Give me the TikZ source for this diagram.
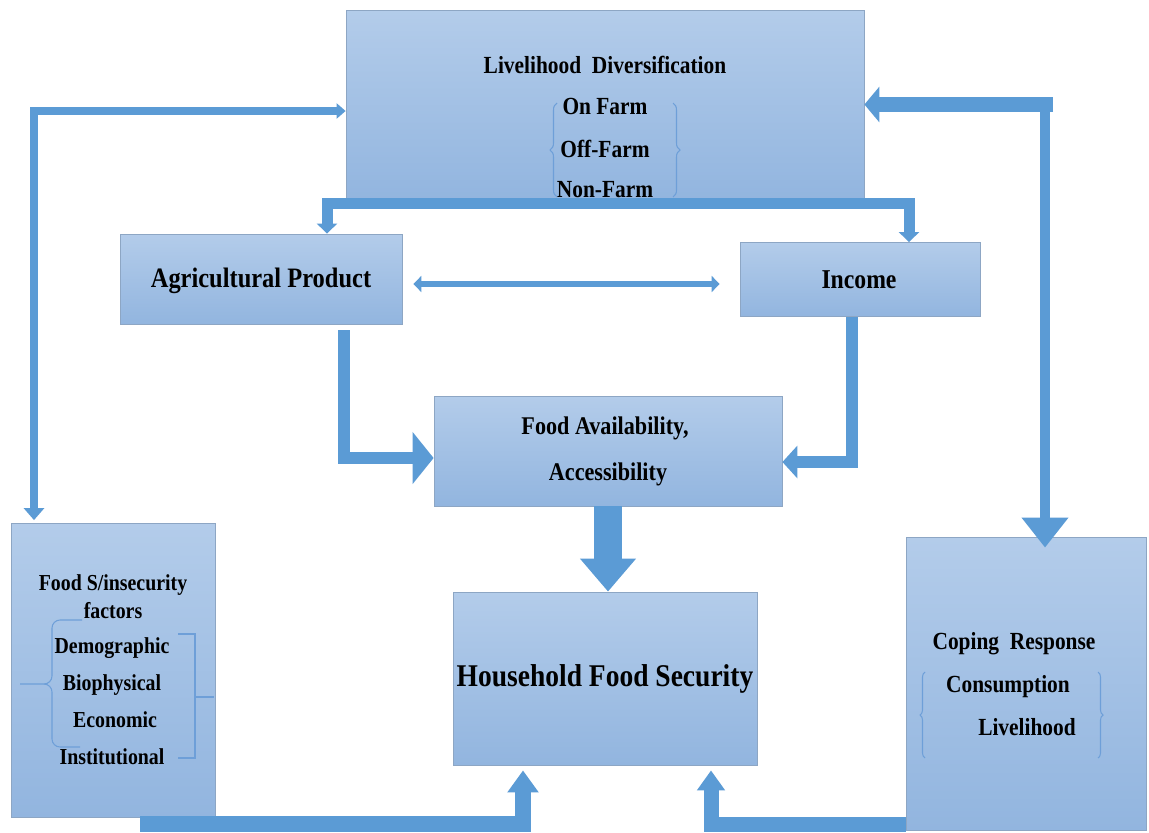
\documentclass[tikz,border=0pt]{standalone}
\usepackage{fontspec}
\setmainfont{Liberation Serif}[FakeStretch=0.87]
\usetikzlibrary{arrows.meta,calc,decorations.pathreplacing}
\definecolor{arrc}{HTML}{5B9BD5}
\definecolor{boxtop}{HTML}{B3CCEA}
\definecolor{boxbot}{HTML}{92B5DF}
\definecolor{boxline}{HTML}{8DA6C4}
\definecolor{brc}{HTML}{6E9FD8}
\begin{document}
\begin{tikzpicture}[x={(0.02cm,0)}, y={(0,-0.02cm)},
  box/.style={draw=boxline, line width=0.5pt, top color=boxtop, bottom color=boxbot, inner sep=0pt},
  lbl/.style={inner sep=0pt, text=black},
  conn/.style={draw=arrc, line join=miter},
  brc/.style={draw=brc, line width=0.6pt},
  bracedeco/.style={brc, decorate, decoration={brace, amplitude=#1}},
]
\fill[white] (0,0) rectangle (1149,832);
\useasboundingbox (0,0) rectangle (1149,832);

% boxes
\node[box, minimum width=10.36cm, minimum height=3.8cm] (ld) at (605,105) {};
\node[box, minimum width=5.64cm, minimum height=1.8cm] (agri) at (261,279) {};
\node[box, minimum width=4.8cm, minimum height=1.48cm] (inc) at (860,279.5) {};
\node[box, minimum width=6.96cm, minimum height=2.2cm] (fa) at (608,451) {};
\node[box, minimum width=6.08cm, minimum height=3.46cm] (hfs) at (605,678.5) {};
\node[box, minimum width=4.08cm, minimum height=5.88cm] (fsi) at (113,670.5) {};
\node[box, minimum width=4.8cm, minimum height=5.86cm] (cop) at (1026,683.5) {};

% texts
\node[lbl, font=\fontsize{14}{16}\selectfont\bfseries] (ldt) at (605,65) {Livelihood\ \ Diversification};
\node[lbl, font=\fontsize{14}{16}\selectfont\bfseries] (ldon) at (605,106) {On Farm};
\node[lbl, font=\fontsize{14}{16}\selectfont\bfseries] (ldoff) at (605,149) {Off-Farm};
\node[lbl, font=\fontsize{14}{16}\selectfont\bfseries] (ldnon) at (605,190) {Non-Farm};

\node[lbl, font=\fontsize{16}{18}\selectfont\bfseries] (agrit) at (261,281) {Agricultural Product};
\node[lbl, font=\fontsize{15.5}{18}\selectfont\bfseries] (inct) at (859,280) {Income};
\node[lbl, font=\fontsize{14.5}{17}\selectfont\bfseries] (fat1) at (605,428) {Food Availability,};
\node[lbl, font=\fontsize{14.5}{17}\selectfont\bfseries] (fat2) at (608,474) {Accessibility};
\node[lbl, font=\fontsize{18}{20}\selectfont\bfseries] (hfst) at (605,679) {Household Food Security};

\node[lbl, font=\fontsize{13}{15}\selectfont\bfseries] (f1) at (113,585) {Food S/insecurity};
\node[lbl, font=\fontsize{13}{15}\selectfont\bfseries] (f2) at (113,611) {factors};
\node[lbl, font=\fontsize{13}{15}\selectfont\bfseries] (f3) at (112,648) {Demographic};
\node[lbl, font=\fontsize{13}{15}\selectfont\bfseries] (f4) at (112,685) {Biophysical};
\node[lbl, font=\fontsize{13}{15}\selectfont\bfseries] (f5) at (115,720) {Economic};
\node[lbl, font=\fontsize{13}{15}\selectfont\bfseries] (f6) at (112,757) {Institutional};

\node[lbl, font=\fontsize{14}{16}\selectfont\bfseries] (c1) at (1014,644) {Coping\ \ Response};
\node[lbl, font=\fontsize{14}{16}\selectfont\bfseries] (c2) at (1008,687) {Consumption};
\node[lbl, font=\fontsize{14}{16}\selectfont\bfseries] (c3) at (1027,727) {Livelihood};

% braces
\draw[bracedeco=0.14cm] (557,197) -- (557,103);
\draw[bracedeco=0.14cm] (673,103) -- (673,197);
\draw[bracedeco=0.1cm] (925,758) -- (925,672);
\draw[bracedeco=0.1cm] (1098,672) -- (1098,758);
\draw[brc] (82,620) -- (60,620) to[out=180,in=90] (52,628) -- (52,676) to[out=-90,in=0] (44,684) -- (20,684);
\draw[brc] (44,684) to[out=0,in=90] (52,692) -- (52,739) to[out=-90,in=180] (60,747) -- (80,747);
\draw[brc] (178,634) -- (195,634) -- (195,758) -- (178,758);
\draw[brc] (195,697) -- (214,697);

% coordinates for connectors
\coordinate (barL) at (327,203);
\coordinate (barR) at (909,203);
\coordinate (lcorner) at (34,111);
\coordinate (rcorner) at (1045,104.5);
\coordinate (rstart) at (1053,104.5);
\coordinate (aTurn) at (344,458);
\coordinate (iTurn) at (852,462);
\coordinate (bL) at (523,824);
\coordinate (bStart) at (140,824);
\coordinate (bR) at (711,824);

% top bar to agri and income
\draw[conn, line width=0.22cm, {Triangle[width=0.4cm,length=0.2cm]}-{Triangle[width=0.4cm,length=0.2cm]}]
  (agri.north -| barL) -- (barL) -- (barR) -- (inc.north -| barR);

% left loop
\draw[conn, line width=0.16cm, {Triangle[width=0.4cm,length=0.24cm]}-{Triangle[width=0.3cm,length=0.18cm]}]
  ([yshift=0.06cm]fsi.north -| lcorner) -- (lcorner) -- (ld.west |- lcorner);

% right loop
\draw[conn, line width=0.3cm, -{Triangle[width=0.7cm,length=0.3cm]}]
  (rstart) -- (ld.east |- rcorner);
\draw[conn, line width=0.2cm, -{Triangle[width=0.9cm,length=0.6cm]}]
  ([yshift=0.15cm]rcorner) -- ([yshift=-0.22cm]cop.north -| rcorner);

% agri <-> income
\draw[conn, line width=0.12cm, {Triangle[width=0.32cm,length=0.16cm]}-{Triangle[width=0.32cm,length=0.16cm]}]
  ([xshift=0.22cm,yshift=-0.1cm]agri.east) -- ([xshift=-0.4cm,yshift=-0.1cm]inc.west |- agri.east);

% agri -> fa
\draw[conn, line width=0.24cm, -{Triangle[width=1.02cm,length=0.42cm]}]
  ([yshift=-0.12cm]agri.south -| aTurn) -- (aTurn) -- (fa.west |- aTurn);
% income -> fa
\draw[conn, line width=0.24cm, -{Triangle[width=0.64cm,length=0.3cm]}]
  (inc.south -| iTurn) -- (iTurn) -- (fa.east |- iTurn);
% fa -> hfs
\draw[conn, line width=0.56cm, -{Triangle[width=1.08cm,length=0.66cm]}]
  (fa.south) -- (fa.south |- hfs.north);

% bottom arrows
\draw[conn, line width=0.32cm, -{Triangle[width=0.6cm,length=0.44cm]}]
  (bStart) -- (bL) -- ([yshift=-0.1cm]hfs.south -| bL);
\draw[conn, line width=0.3cm, -{Triangle[width=0.54cm,length=0.4cm]}]
  (cop.west |- bR) -- (bR) -- ([yshift=-0.1cm]hfs.south -| bR);
\end{tikzpicture}
\end{document}
